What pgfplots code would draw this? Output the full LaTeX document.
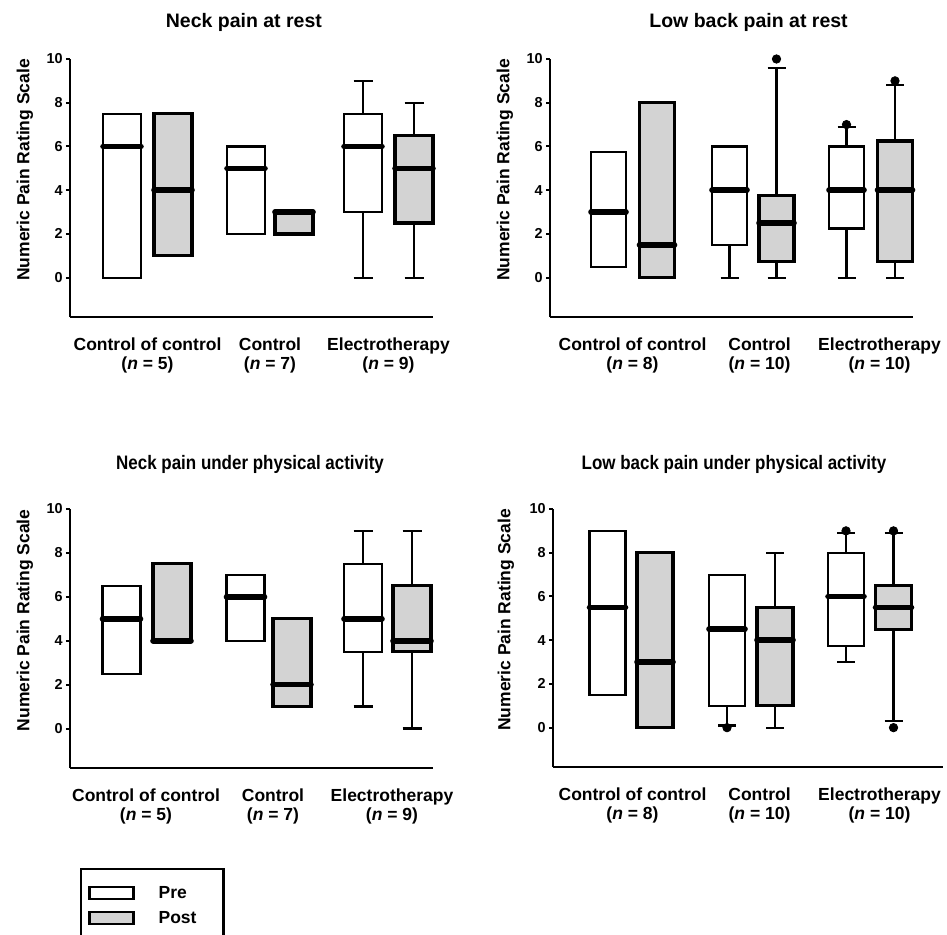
\documentclass[border=0pt]{standalone}
\usepackage{fontspec}
\setmainfont{Liberation Sans}
\usepackage{graphicx}
\usepackage{pgfplots}
\pgfplotsset{compat=1.18}
\usepgfplotslibrary{statistics}
\definecolor{postgray}{RGB}{211,211,211}
\pgfplotsset{
  panel/.style={
    scale only axis, width=181.5pt, height=129pt,
    xmin=0, xmax=363, ymin=-1.8, ymax=10,
    axis x line=bottom, axis y line=left,
    axis line style={-, line width=1.2pt, black},
    ytick={0,2,4,6,8,10},
    tick align=outside, major tick length=2pt,
    ytick style={line width=1pt, black},
    xtick style={draw=none},
    /pgf/number format/assume math mode=true,
    yticklabel style={font=\fontsize{7.2}{8}\selectfont\bfseries, inner sep=1.5pt},
    xticklabel style={font=\fontsize{8.75}{9.5}\selectfont\bfseries, align=center, anchor=north, inner sep=0pt, yshift=-8pt},
    ylabel={Numeric Pain Rating Scale},
    ylabel style={font=\fontsize{8.75}{10}\selectfont\bfseries, at={(axis description cs:-0.124,0.57)}, anchor=center},
    every axis title shift=0pt,
    title style={font=\fontsize{9.75}{11}\selectfont\bfseries, anchor=base, inner sep=0pt},
    clip=false,
    boxplot/draw direction=y,
    boxplot/box extend=38, boxplot/whisker extend=19,
  },
  prebox/.style={draw=black, fill=white, line width=1.1pt, mark=*, mark size=2.1pt,
    mark options={fill=black, draw=black, line width=0.4pt},
    boxplot/every median/.style={line width=2.8pt, line cap=round},
    boxplot/every whisker/.style={line width=1.1pt}, forget plot},
  postbox/.style={prebox, fill=postgray, line width=1.6pt},
}
\begin{document}
\begin{tikzpicture}
\useasboundingbox (0,0) rectangle (473.5pt,467pt);
\clip (0,0) rectangle (473.5pt,467pt);

% Panel 1
\begin{axis}[panel, at={(35pt,308.5pt)}, anchor=south west,
  title={Neck pain at rest}, title style={at={(axis description cs:0.479,1.124)}},
  xtick={77.5,200,318.5},
  xticklabels={{Control of control\\(\textit{n} = 5)},{Control\\(\textit{n} = 7)},{Electrotherapy\\(\textit{n} = 9)}}]
\addplot[prebox, boxplot prepared={draw position=52, lower whisker=0, lower quartile=0, median=6, upper quartile=7.5, upper whisker=7.5}] coordinates {};
\addplot[postbox, boxplot prepared={draw position=103, lower whisker=1, lower quartile=1, median=4, upper quartile=7.5, upper whisker=7.5}] coordinates {};
\addplot[prebox, boxplot prepared={draw position=176, lower whisker=2, lower quartile=2, median=5, upper quartile=6, upper whisker=6}] coordinates {};
\addplot[postbox, boxplot prepared={draw position=224, lower whisker=2, lower quartile=2, median=3, upper quartile=3, upper whisker=3}] coordinates {};
\addplot[prebox, boxplot prepared={draw position=293, lower whisker=0, lower quartile=3, median=6, upper quartile=7.5, upper whisker=9}] coordinates {};
\addplot[postbox, boxplot prepared={draw position=344, lower whisker=0, lower quartile=2.5, median=5, upper quartile=6.5, upper whisker=8}] coordinates {};
\end{axis}

% Panel 2
\begin{axis}[panel, at={(275pt,308.5pt)}, anchor=south west,
  boxplot/box extend=35, boxplot/whisker extend=18,
  title={Low back pain at rest}, title style={at={(axis description cs:0.547,1.124)}},
  xtick={82.5,209.5,329.5},
  xticklabels={{Control of control\\(\textit{n} = 8)},{Control\\(\textit{n} = 10)},{Electrotherapy\\(\textit{n} = 10)}}]
\addplot[prebox, boxplot prepared={draw position=58.5, lower whisker=0.5, lower quartile=0.5, median=3, upper quartile=5.75, upper whisker=5.75}] coordinates {};
\addplot[postbox, boxplot prepared={draw position=107, lower whisker=0, lower quartile=0, median=1.5, upper quartile=8, upper whisker=8}] coordinates {};
\addplot[prebox, boxplot prepared={draw position=179.5, lower whisker=0, lower quartile=1.5, median=4, upper quartile=6, upper whisker=6}] coordinates {};
\addplot[postbox, boxplot prepared={draw position=226.5, lower whisker=0, lower quartile=0.75, median=2.5, upper quartile=3.75, upper whisker=9.6}] table[row sep=\\, y index=0] {data\\ 10\\};
\addplot[prebox, boxplot prepared={draw position=296.5, lower whisker=0, lower quartile=2.25, median=4, upper quartile=6, upper whisker=6.9}] table[row sep=\\, y index=0] {data\\ 7\\};
\addplot[postbox, boxplot prepared={draw position=345, lower whisker=0, lower quartile=0.75, median=4, upper quartile=6.25, upper whisker=8.8}] table[row sep=\\, y index=0] {data\\ 9\\};
\end{axis}

% Panel 3
\begin{axis}[panel, at={(35pt,83pt)}, anchor=south west, height=129.5pt,
  title={\scalebox{0.87}[1]{Neck pain under physical activity}}, title style={at={(axis description cs:0.496,1.154)}},
  xtick={76,203,322},
  xticklabels={{Control of control\\(\textit{n} = 5)},{Control\\(\textit{n} = 7)},{Electrotherapy\\(\textit{n} = 9)}},
  legend style={at={(axis description cs:0.0275,-0.386)}, anchor=north west, draw=black, line width=1.2pt,
    font=\fontsize{8.75}{10}\selectfont\bfseries, cells={anchor=west},
    inner xsep=3.5pt, inner ysep=8pt, row sep=4.5pt,
    nodes={inner sep=0pt, text height=6.5pt, text depth=1.5pt, text width=29pt},
    /tikz/every odd column/.append style={column sep=12pt}}]
\addplot[prebox, boxplot prepared={draw position=51.5, lower whisker=2.5, lower quartile=2.5, median=5, upper quartile=6.5, upper whisker=6.5}] coordinates {};
\addplot[postbox, boxplot prepared={draw position=102, lower whisker=4, lower quartile=4, median=4, upper quartile=7.5, upper whisker=7.5}] coordinates {};
\addplot[prebox, boxplot prepared={draw position=175.5, lower whisker=4, lower quartile=4, median=6, upper quartile=7, upper whisker=7}] coordinates {};
\addplot[postbox, boxplot prepared={draw position=222, lower whisker=1, lower quartile=1, median=2, upper quartile=5, upper whisker=5}] coordinates {};
\addplot[prebox, boxplot prepared={draw position=293, lower whisker=1, lower quartile=3.5, median=5, upper quartile=7.5, upper whisker=9}] coordinates {};
\addplot[postbox, boxplot prepared={draw position=342, lower whisker=0, lower quartile=3.5, median=4, upper quartile=6.5, upper whisker=9}] coordinates {};
\addlegendimage{legend image code/.code={\draw[line width=1.2pt, fill=white] (0pt,-3pt) rectangle (22pt,3pt);}}
\addlegendentry{Pre}
\addlegendimage{legend image code/.code={\draw[line width=1.2pt, fill=postgray] (0pt,-3pt) rectangle (22pt,3pt);}}
\addlegendentry{Post}
\end{axis}

% Panel 4
\begin{axis}[panel, at={(276.5pt,83.5pt)}, anchor=south west, width=195pt, xmax=390,
  boxplot/box extend=36, boxplot/whisker extend=18,
  ylabel style={at={(axis description cs:-0.1205,0.57)}},
  title={\scalebox{0.87}[1]{Low back pain under physical activity}}, title style={at={(axis description cs:0.464,1.155)}},
  xtick={79.5,206.5,326.5},
  xticklabels={{Control of control\\(\textit{n} = 8)},{Control\\(\textit{n} = 10)},{Electrotherapy\\(\textit{n} = 10)}}]
\addplot[prebox, boxplot prepared={draw position=54.5, lower whisker=1.5, lower quartile=1.5, median=5.5, upper quartile=9, upper whisker=9}] coordinates {};
\addplot[postbox, boxplot prepared={draw position=102, lower whisker=0, lower quartile=0, median=3, upper quartile=8, upper whisker=8}] coordinates {};
\addplot[prebox, boxplot prepared={draw position=174, lower whisker=0.1, lower quartile=1, median=4.5, upper quartile=7, upper whisker=7}] table[row sep=\\, y index=0] {data\\ 0\\};
\addplot[postbox, boxplot prepared={draw position=222, lower whisker=0, lower quartile=1, median=4, upper quartile=5.5, upper whisker=8}] coordinates {};
\addplot[prebox, boxplot prepared={draw position=293, lower whisker=3, lower quartile=3.75, median=6, upper quartile=8, upper whisker=8.9}] table[row sep=\\, y index=0] {data\\ 9\\};
\addplot[postbox, boxplot prepared={draw position=340.5, lower whisker=0.3, lower quartile=4.5, median=5.5, upper quartile=6.5, upper whisker=8.9}] table[row sep=\\, y index=0] {data\\ 9\\ 0\\};
\end{axis}
\end{tikzpicture}
\end{document}
